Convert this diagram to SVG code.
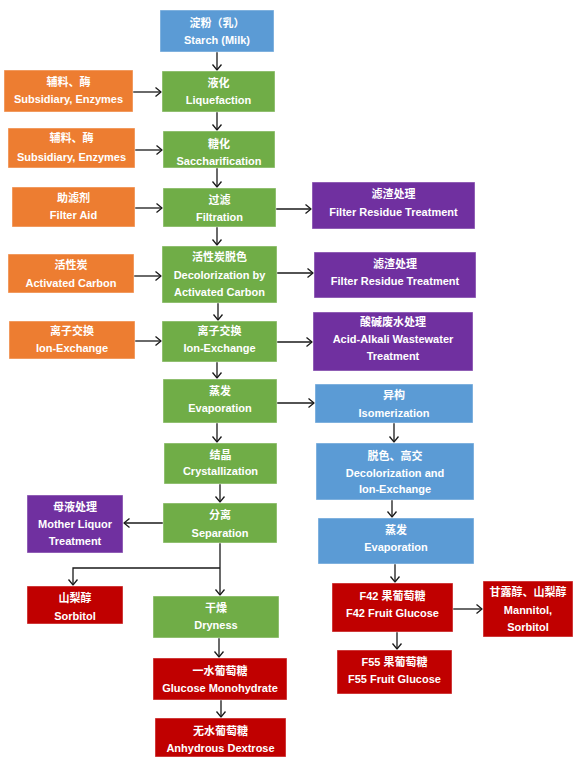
<svg xmlns="http://www.w3.org/2000/svg" width="585" height="770" viewBox="0 0 585 770">
<style>
rect{stroke:#ffffff;stroke-opacity:0.45;stroke-width:1}
.b{fill:#5b9bd5}.g{fill:#70ad47}.o{fill:#ed7d31}.p{fill:#7030a0}.r{fill:#c00000}
text{font-family:"Liberation Sans","Noto Sans CJK SC",sans-serif;font-size:11px;font-weight:bold;fill:#ffffff;text-anchor:middle}
.c{stroke:#1a1a1a;stroke-width:1.3;fill:none;marker-end:url(#ah)}
</style>
<defs>
<marker id="ah" markerUnits="userSpaceOnUse" markerWidth="12" markerHeight="12" viewBox="-7 -6 8 12" refX="0" refY="0" orient="auto">
<path d="M-5.5,-4.5 L0,0 L-5.5,4.5" fill="none" stroke="#1a1a1a" stroke-width="1.3"/>
</marker>
</defs>
<rect width="585" height="770" fill="#ffffff" style="stroke:none"/>
<g id="connectors">
<path class="c" d="M217,52 V70"/>
<path class="c" d="M217,112 V130"/>
<path class="c" d="M217,168 V187"/>
<path class="c" d="M217,227 V245"/>
<path class="c" d="M218,303 V320"/>
<path class="c" d="M217,362 V378"/>
<path class="c" d="M217,423 V442"/>
<path class="c" d="M220,484 V502"/>
<path class="c" d="M220,543 V595"/>
<path class="c" d="M220,568 H73 V585"/>
<path class="c" d="M163,523 H124"/>
<path class="c" d="M219,638 V657"/>
<path class="c" d="M221,700 V717"/>
<path class="c" d="M133,92 H161"/>
<path class="c" d="M135,150 H162"/>
<path class="c" d="M135,208 H162"/>
<path class="c" d="M134,276 H161"/>
<path class="c" d="M135,341 H161"/>
<path class="c" d="M276,209 H311"/>
<path class="c" d="M277,273 H313"/>
<path class="c" d="M277,342 H312"/>
<path class="c" d="M277,403 H314"/>
<path class="c" d="M394,423 V442"/>
<path class="c" d="M392,500 V517"/>
<path class="c" d="M395,564 V582"/>
<path class="c" d="M397,632 V649"/>
<path class="c" d="M453,609 H482"/>
</g>
<g id="starch"><rect class="b" x="160" y="10" width="114" height="42"/><text x="217" y="27">淀粉（乳）</text><text x="217" y="44">Starch (Milk)</text></g>
<g id="liquefaction"><rect class="g" x="162" y="71" width="113" height="41"/><text x="218.5" y="87">液化</text><text x="218.5" y="104">Liquefaction</text></g>
<g id="saccharification"><rect class="g" x="163" y="131" width="112" height="37"/><text x="219" y="147.5">糖化</text><text x="219" y="164.5">Saccharification</text></g>
<g id="filtration"><rect class="g" x="163" y="188" width="113" height="39"/><text x="219.5" y="203.5">过滤</text><text x="219.5" y="220.5">Filtration</text></g>
<g id="decolorization"><rect class="g" x="162" y="246" width="115" height="57"/><text x="219.5" y="261">活性炭脱色</text><text x="219.5" y="279">Decolorization by</text><text x="219.5" y="296">Activated Carbon</text></g>
<g id="ionexchange"><rect class="g" x="162" y="321" width="115" height="41"/><text x="219.5" y="335">离子交换</text><text x="219.5" y="352">Ion-Exchange</text></g>
<g id="evaporation"><rect class="g" x="163" y="379" width="114" height="44"/><text x="220" y="395">蒸发</text><text x="220" y="412">Evaporation</text></g>
<g id="crystallization"><rect class="g" x="164" y="443" width="113" height="41"/><text x="220.5" y="459">结晶</text><text x="220.5" y="475">Crystallization</text></g>
<g id="separation"><rect class="g" x="163" y="503" width="114" height="40"/><text x="220" y="519">分离</text><text x="220" y="537">Separation</text></g>
<g id="dryness"><rect class="g" x="153" y="596" width="126" height="42"/><text x="216" y="612">干燥</text><text x="216" y="629">Dryness</text></g>
<g id="aux1"><rect class="o" x="4" y="70" width="129" height="42"/><text x="68.5" y="86">辅料、酶</text><text x="68.5" y="103">Subsidiary, Enzymes</text></g>
<g id="aux2"><rect class="o" x="8" y="128" width="127" height="40"/><text x="71.5" y="142">辅料、酶</text><text x="71.5" y="161">Subsidiary, Enzymes</text></g>
<g id="filteraid"><rect class="o" x="12" y="187" width="123" height="40"/><text x="73.5" y="202">助滤剂</text><text x="73.5" y="219">Filter Aid</text></g>
<g id="carbon"><rect class="o" x="8" y="254" width="126" height="39"/><text x="71" y="269">活性炭</text><text x="71" y="287">Activated Carbon</text></g>
<g id="ioninput"><rect class="o" x="9" y="321" width="126" height="38"/><text x="72" y="335">离子交换</text><text x="72" y="352">Ion-Exchange</text></g>
<g id="residue1"><rect class="p" x="312" y="182" width="163" height="47"/><text x="393.5" y="198">滤渣处理</text><text x="393.5" y="216">Filter Residue Treatment</text></g>
<g id="residue2"><rect class="p" x="314" y="252" width="162" height="46"/><text x="395" y="268">滤渣处理</text><text x="395" y="285">Filter Residue Treatment</text></g>
<g id="wastewater"><rect class="p" x="313" y="312" width="160" height="59"/><text x="393" y="326">酸碱废水处理</text><text x="393" y="343">Acid-Alkali Wastewater</text><text x="393" y="360">Treatment</text></g>
<g id="motherliquor"><rect class="p" x="27" y="495" width="96" height="58"/><text x="75" y="511">母液处理</text><text x="75" y="528">Mother Liquor</text><text x="75" y="545">Treatment</text></g>
<g id="sorbitol"><rect class="r" x="27" y="586" width="96" height="38"/><text x="75" y="602">山梨醇</text><text x="75" y="620">Sorbitol</text></g>
<g id="monohydrate"><rect class="r" x="153" y="658" width="134" height="42"/><text x="220" y="675">一水葡萄糖</text><text x="220" y="692">Glucose Monohydrate</text></g>
<g id="anhydrous"><rect class="r" x="155" y="718" width="131" height="39"/><text x="220.5" y="735">无水葡萄糖</text><text x="220.5" y="752">Anhydrous Dextrose</text></g>
<g id="isomerization"><rect class="b" x="315" y="384" width="158" height="39"/><text x="394" y="399">异构</text><text x="394" y="417">Isomerization</text></g>
<g id="decolion"><rect class="b" x="316" y="443" width="158" height="57"/><text x="395" y="460">脱色、高交</text><text x="395" y="477">Decolorization and</text><text x="395" y="493">Ion-Exchange</text></g>
<g id="evaporation2"><rect class="b" x="318" y="518" width="156" height="46"/><text x="396" y="534">蒸发</text><text x="396" y="551">Evaporation</text></g>
<g id="f42"><rect class="r" x="332" y="583" width="121" height="49"/><text x="392.5" y="600">F42 果葡萄糖</text><text x="392.5" y="617">F42 Fruit Glucose</text></g>
<g id="mannitol"><rect class="r" x="483" y="581" width="90" height="56"/><text x="528" y="596">甘露醇、山梨醇</text><text x="528" y="614">Mannitol,</text><text x="528" y="631">Sorbitol</text></g>
<g id="f55"><rect class="r" x="337" y="650" width="115" height="44"/><text x="394.5" y="666">F55 果葡萄糖</text><text x="394.5" y="683">F55 Fruit Glucose</text></g>
</svg>
